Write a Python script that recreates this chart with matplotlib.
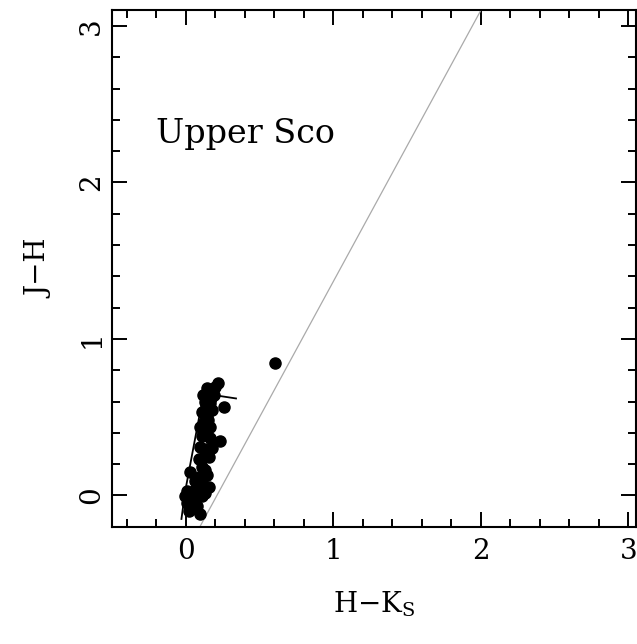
import matplotlib
matplotlib.use("Agg")
import matplotlib.pyplot as plt
from matplotlib.ticker import MultipleLocator

plt.rcParams['font.family'] = ['DejaVu Serif']
plt.rcParams['mathtext.fontset'] = 'dejavuserif'

# Upper Sco stars: H-Ks, J-H
hk = [0.142, 0.216, 0.196, 0.128, 0.189, 0.257, 0.108, 0.176, 0.122, 0.162,
      0.128, 0.162, 0.230, 0.095, 0.176, 0.122, 0.108, 0.027, 0.128, 0.088,
      0.155, 0.007, 0.061, 0.041, 0.108, 0.007, 0.074, 0.020, 0.095, 0.054,
      0.128, 0.088, 0.155, 0.108, 0.142, 0.095, 0.162, 0.081, -0.007, 0.041,
      0.108, 0.135, 0.149, 0.115, 0.170, 0.060, 0.030, 0.140, 0.100, 0.601]
jh = [0.689, 0.721, 0.696, 0.599, 0.645, 0.568, 0.536, 0.549, 0.472, 0.440,
      0.408, 0.370, 0.345, 0.313, 0.306, 0.249, 0.185, 0.147, 0.166, 0.121,
      0.057, 0.026, 0.038, -0.026, -0.006, -0.045, -0.070, -0.102, -0.121, -0.077,
      0.019, 0.230, 0.249, 0.377, 0.517, 0.440, 0.593, 0.070, -0.006, 0.019,
      0.102, 0.294, 0.485, 0.640, 0.620, 0.090, -0.060, 0.130, 0.050, 0.849]

# dwarf sequence
seq_hk = [-0.03, -0.02, 0.0, 0.03, 0.06, 0.09, 0.11, 0.15, 0.2, 0.27, 0.34]
seq_jh = [-0.15, -0.08, 0.05, 0.2, 0.35, 0.5, 0.6, 0.64, 0.64, 0.63, 0.62]

# reddening line
red_hk = [0.095, 2.0]
red_jh = [-0.2, 3.1]

fig = plt.figure(figsize=(6.37, 6.44), dpi=100)
ax = fig.add_axes([0.176, 0.182, 0.822, 0.802])

ax.plot(red_hk, red_jh, color='#aaaaaa', lw=0.9)
ax.plot(seq_hk, seq_jh, color='black', lw=1.3)
ax.plot(hk, jh, 'o', color='black', ms=8)

ax.set_xlim(-0.5, 3.05)
ax.set_ylim(-0.2, 3.1)
ax.xaxis.set_major_locator(MultipleLocator(1))
ax.xaxis.set_minor_locator(MultipleLocator(0.2))
ax.yaxis.set_major_locator(MultipleLocator(1))
ax.yaxis.set_minor_locator(MultipleLocator(0.2))
ax.tick_params(which='both', direction='in', top=True, right=True, width=1.4)
ax.tick_params(which='major', length=11, labelsize=20)
ax.tick_params(axis='x', which='major', pad=8)
ax.tick_params(axis='y', which='major', pad=5)
ax.tick_params(which='minor', length=5.5)
for lab in ax.get_yticklabels():
    lab.set_rotation(90)
    lab.set_va('center')
for s in ax.spines.values():
    s.set_linewidth(1.5)

ax.set_xlabel(r'H$-$K$_{\rm S}$', fontsize=20, labelpad=18)
ax.set_ylabel('J\u2212H', fontsize=20, labelpad=18)
ax.text(-0.2, 2.25, 'Upper Sco', fontsize=24)

fig.savefig('out.png', dpi=100)
